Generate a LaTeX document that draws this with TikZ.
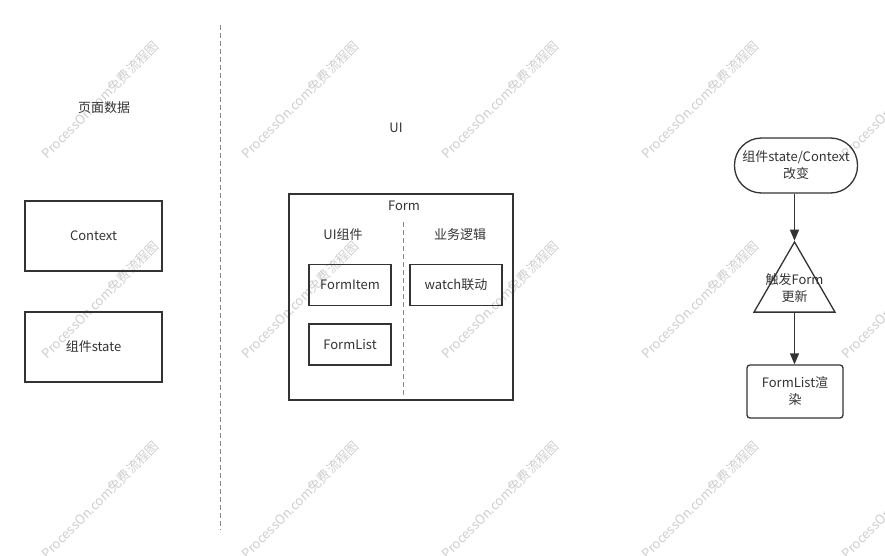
\documentclass[tikz,border=0pt]{standalone}
\usepackage{fontspec}
\setmainfont{Noto Sans CJK SC}
\usepackage{tikz}
\usetikzlibrary{shapes.geometric}
\usetikzlibrary{arrows.meta}
\definecolor{ink}{HTML}{333333}
\definecolor{wmark}{HTML}{CFCFCF}
\definecolor{splitgray}{HTML}{8A8A8A}

\begin{document}
\begin{tikzpicture}[x=1pt,y=-1pt,
		box/.style={draw=ink,line width=1.3pt,inner sep=0pt,text=ink,
			font=\fontsize{13}{17}\selectfont,align=center},
		txt/.style={text=ink,font=\fontsize{13}{17}\selectfont,align=center,inner sep=0pt},
		flow/.style={draw=ink,line width=1.3pt,-{Triangle[length=11pt,width=9pt]}},
		split/.style={draw=splitgray,line width=0.8pt,dash pattern=on 5pt off 3pt}]
		\useasboundingbox[fill=white] (0,0) rectangle (885,556);
%		watermark
		\foreach \i in {0,...,4}
			\foreach \j in {0,1,2}
				\node[text=wmark,font=\fontsize{13}{15}\selectfont,rotate=45,inner sep=0pt]
				(wm\i\j) at (100+200*\i,100+200*\j) {ProcessOn.com免费流程图};
%		page data column
		\node[txt] (pagedata) at (104,108) {页面数据};
		\node[box,minimum width=137pt,minimum height=70pt] (context) at (93.5,236) {Context};
		\node[box,minimum width=137pt,minimum height=70pt] (state) at (93.5,347) {组件state};
		\draw[split] (220,25) -- (220,530);
%		UI column
		\node[txt] (ui) at (396,128) {UI};
		\node[box,minimum width=224pt,minimum height=206pt] (form) at (401,297) {};
		\node[txt] (formtitle) at (404,206) {Form};
		\draw[split] (403,222) -- (403,396);
		\node[txt] (uicomp) at (343,235) {UI组件};
		\node[txt] (logic) at (460,235) {业务逻辑};
		\node[box,minimum width=82pt,minimum height=41pt] (formitem) at (350,285) {FormItem};
		\node[box,minimum width=82pt,minimum height=41pt] (formlist) at (350,344.5) {FormList};
		\node[box,minimum width=92pt,minimum height=41pt] (watch) at (456,285) {watch联动};
%		update flow
		\node[box,minimum width=123pt,minimum height=55pt,rounded corners=27pt]
		(change) at (796,165.5) {组件state/Context\\改变};
		\node[draw=ink,line width=1.3pt,regular polygon,regular polygon sides=3,
			minimum size=93.5pt,inner sep=0pt] (trig) at (794.5,288.75) {};
		\node[txt] (trigtext) at (794.5,288) {触发Form\\更新};
		\node[box,minimum width=96pt,minimum height=53pt,rounded corners=3pt]
		(render) at (795,391.5) {FormList渲\\染};
		\draw[flow] (trig.north |- change.south) -- (trig.north);
		\draw[flow] (trig.south) -- (trig.south |- render.north);
	\end{tikzpicture}
\end{document}
